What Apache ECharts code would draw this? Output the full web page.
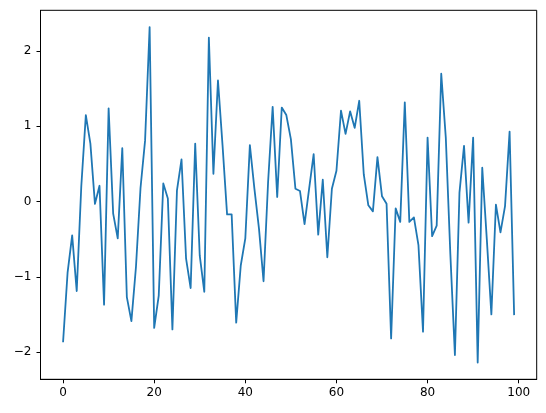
<!DOCTYPE html>
<html>
<head>
<meta charset="utf-8">
<script src="https://cdn.jsdelivr.net/npm/echarts@6/dist/echarts.min.js"></script>
<style>html,body{margin:0;padding:0;background:#fff}#c{width:546px;height:413px}</style>
</head>
<body>
<div id="c"></div>
<script>
var values = [
  -1.87, -0.94, -0.45, -1.19, 0.2, 1.15, 0.77, -0.03, 0.21, -1.37,
  1.24, -0.16, -0.49, 0.71, -1.27, -1.59, -0.87, 0.18, 0.81, 2.32,
  -1.68, -1.25, 0.24, 0.04, -1.70, 0.15, 0.56, -0.76, -1.15, 0.77,
  -0.72, -1.20, 2.18, 0.37, 1.61, 0.75, -0.17, -0.17, -1.61, -0.85,
  -0.49, 0.75, 0.17, -0.36, -1.06, 0.26, 1.26, 0.06, 1.25, 1.15,
  0.83, 0.17, 0.14, -0.30, 0.17, 0.63, -0.44, 0.29, -0.74, 0.17,
  0.41, 1.21, 0.90, 1.20, 0.98, 1.34, 0.36, -0.05, -0.13, 0.59,
  0.07, -0.03, -1.82, -0.09, -0.27, 1.32, -0.27, -0.21, -0.58, -1.73,
  0.85, -0.46, -0.32, 1.70, 0.85, -0.70, -2.04, 0.12, 0.74, -0.28,
  0.85, -2.14, 0.45, -0.50, -1.50, -0.04, -0.41, -0.06, 0.93, -1.51
];
var xTicks = [0, 20, 40, 60, 80, 100];
var yTicks = [-2, -1, 0, 1, 2];

var pts = values.map(function (v, i) { return [i, v]; });
var xMinD = 0, xMaxD = values.length - 1;
var yMinD = Math.min.apply(null, values), yMaxD = Math.max.apply(null, values);
var xPad = (xMaxD - xMinD) * 0.05, yPad = (yMaxD - yMinD) * 0.05;
function fmt(v) { return String(v).replace('-', '\u2212'); }

var font = { fontFamily: 'DejaVu Sans', fontSize: 12, color: '#000' };
var chart = echarts.init(document.getElementById('c'), null, { renderer: 'canvas' });
chart.setOption({
  animation: false,
  backgroundColor: '#fff',
  grid: { left: 40.5, right: 9.3, top: 10.3, bottom: 33.7, show: true, borderColor: '#000', borderWidth: 1, containLabel: false },
  xAxis: {
    type: 'value', min: xMinD - xPad, max: xMaxD + xPad,
    splitLine: { show: false },
    axisLine: { show: true, onZero: false, lineStyle: { color: '#000', width: 1 } },
    axisTick: { show: true, inside: false, length: 4, customValues: xTicks, lineStyle: { color: '#000', width: 1 } },
    axisLabel: Object.assign({ margin: 8, customValues: xTicks, formatter: fmt }, font)
  },
  yAxis: {
    type: 'value', min: yMinD - yPad, max: yMaxD + yPad,
    splitLine: { show: false },
    axisLine: { show: true, onZero: false, lineStyle: { color: '#000', width: 1 } },
    axisTick: { show: true, inside: false, length: 4, customValues: yTicks, lineStyle: { color: '#000', width: 1 } },
    axisLabel: Object.assign({ margin: 9, customValues: yTicks, formatter: fmt }, font)
  },
  series: [{
    type: 'line', data: pts, showSymbol: false, symbol: 'none',
    lineStyle: { color: '#1f77b4', width: 1.8, join: 'round', cap: 'butt' }
  }]
});
</script>
</body>
</html>
